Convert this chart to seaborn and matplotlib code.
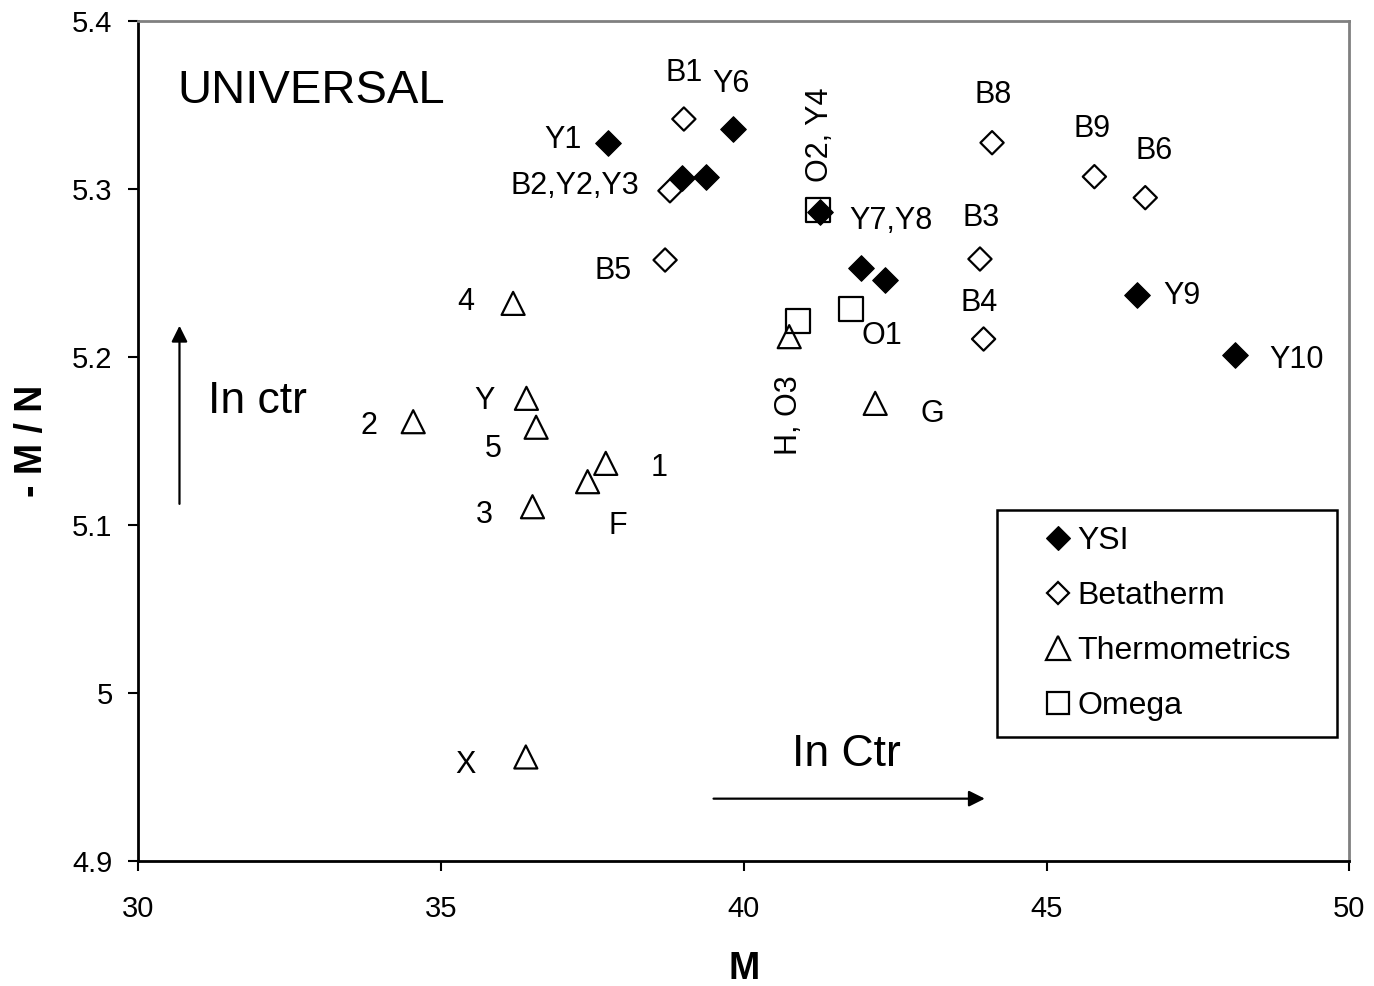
import matplotlib
matplotlib.use("Agg")
import matplotlib.pyplot as plt
import seaborn as sns
from matplotlib.lines import Line2D
from matplotlib.patches import Rectangle

# ---------------- data ----------------
ysi_m = [37.75, 38.98, 39.38, 39.82, 41.26, 41.94, 42.34, 46.49, 48.12]
ysi_mn = [5.3274, 5.3062, 5.3072, 5.3354, 5.2864, 5.2527, 5.2457, 5.2368, 5.2011]

beta_m = [39.01, 38.78, 38.70, 44.10, 45.79, 46.63, 43.90, 43.96]
beta_mn = [5.3415, 5.2988, 5.2576, 5.3274, 5.3072, 5.2947, 5.2582, 5.2106]

thermo_m = [36.19, 36.41, 34.54, 36.57, 37.72, 37.42, 36.51, 36.40, 40.75, 42.17]
thermo_mn = [5.2318, 5.1753, 5.1614, 5.1581, 5.1366, 5.1257, 5.1108, 4.9619, 5.2120, 5.1723]

omega_m = [41.22, 40.89, 41.77]
omega_mn = [5.2874, 5.2213, 5.2283]

series_names = ["YSI", "Betatherm", "Thermometrics", "Omega"]

point_labels = ["Y1", "B1", "Y6", "B2,Y2,Y3", "O2, Y4", "Y7,Y8", "B5", "4", "O1",
                "H, O3", "Y", "2", "5", "1", "3", "F", "G", "X", "B8", "B9", "B6",
                "B3", "B4", "Y9", "Y10"]

x_ticks = [30, 35, 40, 45, 50]
y_ticks = [4.9, 5.0, 5.1, 5.2, 5.3, 5.4]
y_tick_labels = ["4.9", "5", "5.1", "5.2", "5.3", "5.4"]

# ---------------- layout (label anchor positions) ----------------
label_pos = [(37.01, 5.3308), (39.01, 5.3707), (39.79, 5.3641), (37.21, 5.3035),
             (41.26, 5.3320), (42.43, 5.2826), (37.84, 5.2528), (35.41, 5.2344),
             (42.28, 5.2142), (40.74, 5.1654), (35.71, 5.1756), (33.81, 5.1607),
             (35.86, 5.1470), (38.60, 5.1357), (35.71, 5.1077), (37.92, 5.1011),
             (43.11, 5.1678), (35.40, 4.9590), (44.12, 5.3576), (45.75, 5.3374),
             (46.78, 5.3243), (43.92, 5.2844), (43.88, 5.2338), (47.23, 5.2380),
             (49.13, 5.2000)]
rotated = {"O2, Y4", "H, O3"}
dy = -0.0018  # small vertical nudge of text anchors

sns.set_theme(style="white")
plt.rcParams["font.family"] = ["Liberation Sans", "DejaVu Sans"]
plt.rcParams["text.color"] = "black"
plt.rcParams["axes.labelcolor"] = "black"

fig = plt.figure(figsize=(13.74, 9.86), dpi=100)
ax = fig.add_axes([0.10066, 0.12677, 0.88137, 0.85223])

common = dict(ax=ax, edgecolor="black", legend=False, zorder=3)
sns.scatterplot(x=omega_m, y=omega_mn, marker="s", s=290, facecolor="none",
                linewidth=1.6, **common)
sns.scatterplot(x=thermo_m, y=thermo_mn, marker="^", s=275, facecolor="none",
                linewidth=1.6, **common)
sns.scatterplot(x=beta_m, y=beta_mn, marker="D", s=140, facecolor="none",
                linewidth=1.6, **common)
sns.scatterplot(x=ysi_m, y=ysi_mn, marker="D", s=170, facecolor="black",
                linewidth=0.8, **common)

for lab, (lx, ly) in zip(point_labels, label_pos):
    rot = lab in rotated
    ax.text(lx, ly if rot else ly + dy, lab, ha="center", va="center", fontsize=22,
            rotation=90 if rot else 0, zorder=4, color="black")

ax.text(30.64, 5.360 + dy, "UNIVERSAL", ha="left", va="center", fontsize=34)
ax.text(31.15, 5.1754 + dy, "In ctr", ha="left", va="center", fontsize=32)
ax.text(41.70, 4.9654 + dy, "In Ctr", ha="center", va="center", fontsize=32)

arrow_kw = dict(arrowstyle="-|>", lw=1.6, color="black", mutation_scale=24,
                shrinkA=0, shrinkB=0)
ax.annotate("", xy=(30.68, 5.2185), xytext=(30.68, 5.1125), arrowprops=arrow_kw)
ax.annotate("", xy=(43.98, 4.9371), xytext=(39.50, 4.9371), arrowprops=arrow_kw)

ax.set_xlim(30, 50)
ax.set_ylim(4.9, 5.4)
ax.set_xticks(x_ticks)
ax.set_xticklabels([str(t) for t in x_ticks])
ax.set_yticks(y_ticks)
ax.set_yticklabels(y_tick_labels)
ax.tick_params(axis="both", direction="out", length=7.5, width=1.5,
               colors="black", labelsize=21, left=True, bottom=True)
ax.tick_params(axis="x", pad=17)
ax.tick_params(axis="y", pad=11)

for side in ["left", "bottom"]:
    ax.spines[side].set_color("black")
    ax.spines[side].set_linewidth(2)
for side in ["top", "right"]:
    ax.spines[side].set_color("#808080")
    ax.spines[side].set_linewidth(2)

ax.set_xlabel("M", fontsize=27, fontweight="bold", labelpad=20)
ax.set_ylabel("- M / N", fontsize=27, fontweight="bold", labelpad=16)

# legend box
ax.add_patch(Rectangle((0.7093, 0.1479), 0.2803, 0.2698, transform=ax.transAxes,
                       facecolor="white", edgecolor="black", lw=1.8, zorder=5))
handles = [
    Line2D([], [], ls="none", marker="D", ms=12.5, mfc="black", mec="black", mew=0.8),
    Line2D([], [], ls="none", marker="D", ms=11.5, mfc="none", mec="black", mew=1.6),
    Line2D([], [], ls="none", marker="^", ms=17, mfc="none", mec="black", mew=1.6),
    Line2D([], [], ls="none", marker="s", ms=16.5, mfc="none", mec="black", mew=1.6),
]
leg = ax.legend(handles, series_names, loc="center left",
                bbox_to_anchor=(0.7492, 0.2828), frameon=False, fontsize=23,
                handlelength=0.8, handletextpad=0.2, labelspacing=0.78,
                borderpad=0, borderaxespad=0)
for t in leg.get_texts():
    t.set_color("black")
leg.set_zorder(6)

fig.savefig("out.png", dpi=100)
